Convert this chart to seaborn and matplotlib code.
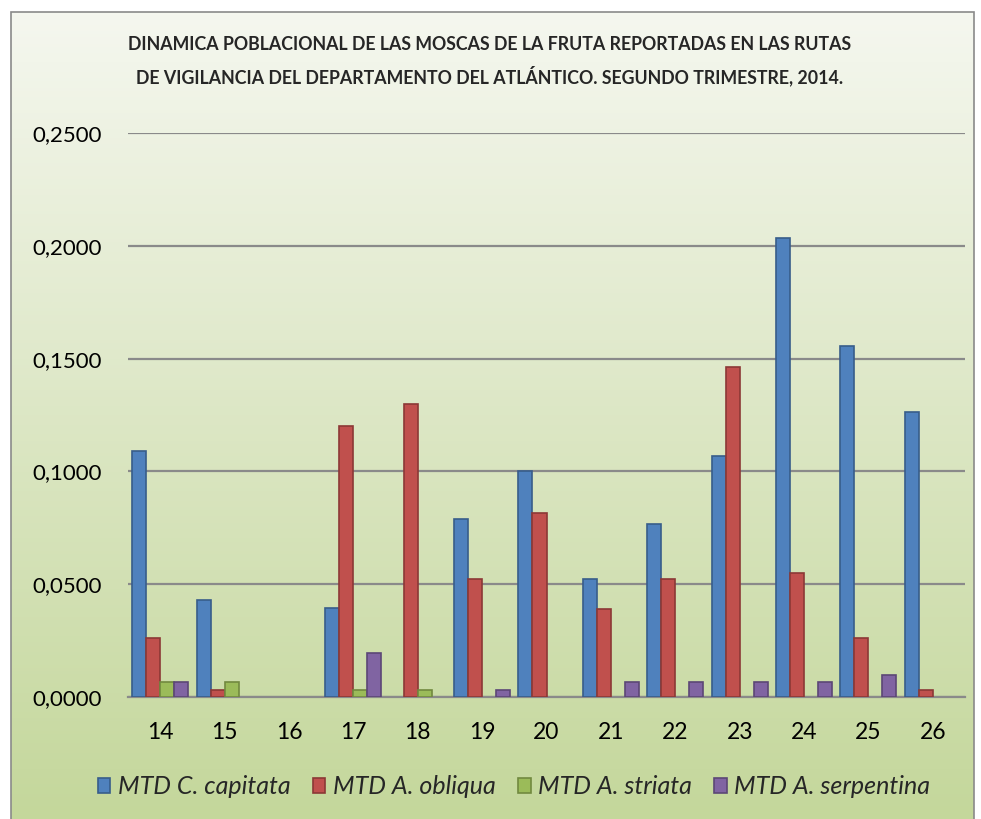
import matplotlib
matplotlib.use("Agg")
import matplotlib.pyplot as plt
from matplotlib.patches import Patch, Rectangle
from matplotlib.ticker import MultipleLocator, FuncFormatter
import seaborn as sns
import pandas as pd
import numpy as np

# Semanas epidemiologicas (segundo trimestre 2014)
weeks = ["14", "15", "16", "17", "18", "19", "20", "21", "22", "23", "24", "25", "26"]
series = ["MTD C. capitata", "MTD A. obliqua", "MTD A. striata", "MTD A. serpentina"]

capitata = [0.1092, 0.0431, 0.0, 0.0396, 0.0, 0.0790, 0.1000, 0.0524, 0.0768, 0.1069, 0.2033, 0.1556, 0.1265]
obliqua = [0.0261, 0.0033, 0.0, 0.1202, 0.1300, 0.0522, 0.0814, 0.0392, 0.0522, 0.1461, 0.0551, 0.0261, 0.0033]
striata = [0.0065, 0.0065, 0.0, 0.0033, 0.0033, 0.0, 0.0, 0.0, 0.0, 0.0, 0.0, 0.0, 0.0]
serpentina = [0.0065, 0.0, 0.0, 0.0196, 0.0, 0.0033, 0.0, 0.0065, 0.0065, 0.0065, 0.0065, 0.0098, 0.0]

fills = ["#4f81bd", "#c0504d", "#9bbb59", "#8064a2"]
edges = ["#385d8a", "#8c3836", "#71893f", "#5c4776"]

df = pd.DataFrame({
    "semana": weeks * 4,
    "serie": np.repeat(series, len(weeks)),
    "mtd": capitata + obliqua + striata + serpentina,
})

sns.set_theme(style="white")
plt.rcParams["font.family"] = ["Lato", "DejaVu Sans"]

fig = plt.figure(figsize=(9.81, 8.19), dpi=100)

# chart area with excel-like vertical gradient
W, H = 981, 819
box = [11 / W, 0.0, 963 / W, 1 - 12 / H]
bg = fig.add_axes(box)
top = np.array([245, 247, 239]) / 255
bot = np.array([196, 215, 155]) / 255
t = np.linspace(0, 1, 256)[:, None]
grad = top[None, :] * (1 - t) + bot[None, :] * t
bg.imshow(grad[:, None, :], aspect="auto", extent=[0, 1, 0, 1])
bg.set_axis_off()
fig.add_artist(Rectangle((box[0], -0.01), box[2], box[3] + 0.01, transform=fig.transFigure,
                         fill=False, edgecolor="#8a8a8a", linewidth=1.2))

ax = fig.add_axes([128 / W, 1 - 697 / H, 837 / W, 564 / H])
ax.set_facecolor("none")

sns.barplot(data=df, x="semana", y="mtd", hue="serie", order=weeks, hue_order=series,
            palette=fills, width=0.87, gap=0, saturation=1, legend=False, ax=ax, zorder=3)

for cont, ec in zip(ax.containers, edges):
    for p in cont:
        p.set_edgecolor(ec)
        p.set_linewidth(1.2)
        if p.get_height() == 0:
            p.set_visible(False)

ax.set_ylim(0, 0.25)
ax.set_xlim(-0.5, len(weeks) - 0.5)
ax.yaxis.set_major_locator(MultipleLocator(0.05))
ax.yaxis.set_major_formatter(FuncFormatter(lambda v, _: f"{v:.4f}".replace(".", ",")))
ax.grid(axis="y", color="#8a8a8a", linewidth=1.6, zorder=0)
ax.set_axisbelow(True)
for s in ["top", "right", "left"]:
    ax.spines[s].set_visible(False)
ax.spines["bottom"].set_color("#8a8a8a")
ax.spines["bottom"].set_linewidth(1.6)
ax.tick_params(axis="y", length=0, pad=19, labelsize=16, labelcolor="black")
ax.tick_params(axis="x", length=0, pad=18, labelsize=16.5, labelcolor="black")
ax.set_xlabel("")
ax.set_ylabel("")

fig.text(0.4995, 1 - 45 / H, "DINAMICA POBLACIONAL DE LAS MOSCAS DE LA FRUTA REPORTADAS EN LAS RUTAS",
         ha="center", va="center", fontsize=12.8, fontweight="bold")
fig.text(0.4995, 1 - 76 / H, "DE VIGILANCIA DEL DEPARTAMENTO DEL ATLÁNTICO. SEGUNDO TRIMESTRE, 2014.",
         ha="center", va="center", fontsize=12.8, fontweight="bold")

handles = [Patch(facecolor=f, edgecolor=e, linewidth=1.2) for f, e in zip(fills, edges)]
fig.legend(handles, series, loc="center", bbox_to_anchor=(0.524, 1 - 787 / H), ncol=4,
           frameon=False, prop={"style": "italic", "size": 18}, handlelength=0.5, handleheight=0.55,
           handletextpad=0.3, columnspacing=0.9)

fig.savefig("out.png", dpi=100)
